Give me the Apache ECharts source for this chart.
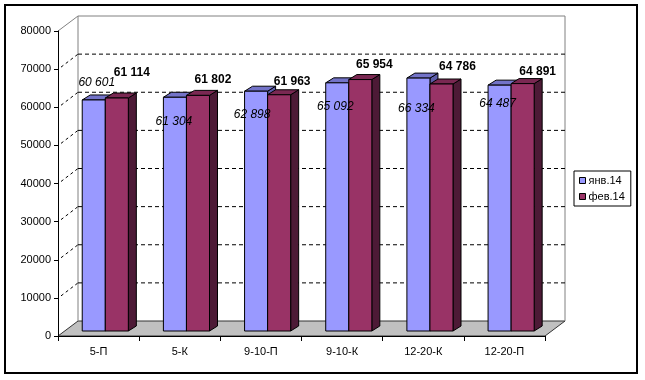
<!DOCTYPE html>
<html>
<head>
<meta charset="utf-8">
<script src="https://cdn.jsdelivr.net/npm/echarts@6/dist/echarts.min.js"></script>
<style>
  html, body { margin: 0; padding: 0; background: #fff; }
  #chart { width: 645px; height: 380px; }
</style>
</head>
<body>
<div id="chart"></div>
<script>
// ---- data ----
const categories = ['5-П', '5-К', '9-10-П', '9-10-К', '12-20-К', '12-20-П'];
const seriesNames = ['янв.14', 'фев.14'];
const jan = [60601, 61304, 62898, 65092, 66334, 64487];
const feb = [61114, 61802, 61963, 65954, 64786, 64891];
const yTicks = [0, 10000, 20000, 30000, 40000, 50000, 60000, 70000, 80000];

// ---- layout / style constants (not data) ----
const DEPTH_DX = 20, DEPTH_DY = -15;     // wall depth
const FRONT_DX = 6.7, FRONT_DY = -5;     // bar front face offset
const SIDE_DX = 8, SIDE_DY = -5;         // bar depth
const BAR_FRAC = 0.284;                  // bar width as fraction of category band
const janLabelDx = [3, -1, -4, -2, -2, -2];
const janLabelDy = [-17, 24, 23, 24, 31, 19];
const febLabelDx = [15, 15, 13, 14, 16, 15];
const febLabelDy = [-25, -16, -13, -14.5, -17, -12];
const FONT = 'Arial, "Liberation Sans", sans-serif';

const janColors = { front: '#9999FF', top: '#7373C8', side: '#5C5CA8' };
const febColors = { front: '#993366', top: '#7A2852', side: '#4D1A36' };

function fmt(v) {
  return String(v).replace(/\B(?=(\d{3})+(?!\d))/g, ' ');
}

const chart = echarts.init(document.getElementById('chart'), null, { renderer: 'canvas' });

function renderWalls(params, api) {
  const bw = api.size([1, 0])[0];
  const c0 = api.coord([0, 0]);
  const L = c0[0] - bw / 2;
  const R = L + bw * categories.length;
  const y0 = c0[1];
  const yTop = api.coord([0, yTicks[yTicks.length - 1]])[1];
  const children = [];
  // floor
  children.push({
    type: 'polygon',
    shape: { points: [[L, y0], [R, y0], [R + DEPTH_DX, y0 + DEPTH_DY], [L + DEPTH_DX, y0 + DEPTH_DY]] },
    style: { fill: '#C0C0C0', stroke: '#333', lineWidth: 1 }
  });
  // back wall frame
  children.push({
    type: 'polyline',
    shape: { points: [[L + DEPTH_DX, y0 + DEPTH_DY], [L + DEPTH_DX, yTop + DEPTH_DY], [R + DEPTH_DX, yTop + DEPTH_DY], [R + DEPTH_DX, y0 + DEPTH_DY]] },
    style: { fill: null, stroke: '#808080', lineWidth: 1 }
  });
  children.push({
    type: 'line',
    shape: { x1: L, y1: yTop, x2: L + DEPTH_DX, y2: yTop + DEPTH_DY },
    style: { stroke: '#808080', lineWidth: 1 }
  });
  // gridlines
  for (let k = 1; k < yTicks.length - 1; k++) {
    const y = api.coord([0, yTicks[k]])[1];
    children.push({
      type: 'line',
      shape: { x1: L + DEPTH_DX, y1: y + DEPTH_DY, x2: R + DEPTH_DX, y2: y + DEPTH_DY },
      style: { stroke: '#000', lineWidth: 1, lineDash: [4, 3] }
    });
    children.push({
      type: 'line',
      shape: { x1: L + 3, y1: y - 2, x2: L + DEPTH_DX, y2: y + DEPTH_DY },
      style: { stroke: '#000', lineWidth: 1, lineDash: [3, 3] }
    });
  }
  return { type: 'group', children: children, silent: true };
}

function makeBarRenderer(sIdx, colors, values, dxArr, dyArr, fontStyle) {
  return function (params, api) {
    const i = api.value(0);
    const v = api.value(1);
    const bw = api.size([1, 0])[0];
    const c = api.coord([i, v]);
    const b = api.coord([i, 0]);
    const barW = bw * BAR_FRAC;
    const x1 = c[0] + FRONT_DX + (sIdx === 0 ? -barW : 0);
    const x2 = x1 + barW;
    const yt = c[1] + FRONT_DY;
    const yb = b[1] + FRONT_DY;
    const stroke = { stroke: '#000', lineWidth: 1 };
    return {
      type: 'group',
      children: [
        { type: 'polygon', shape: { points: [[x2, yt], [x2 + SIDE_DX, yt + SIDE_DY], [x2 + SIDE_DX, yb + SIDE_DY], [x2, yb]] },
          style: Object.assign({ fill: colors.side }, stroke) },
        { type: 'polygon', shape: { points: [[x1, yt], [x2, yt], [x2 + SIDE_DX, yt + SIDE_DY], [x1 + SIDE_DX, yt + SIDE_DY]] },
          style: Object.assign({ fill: colors.top }, stroke) },
        { type: 'rect', shape: { x: x1, y: yt, width: barW, height: yb - yt },
          style: Object.assign({ fill: colors.front }, stroke) },
        { type: 'text', z2: 100, x: (x1 + x2) / 2 + dxArr[params.dataIndex], y: yt + dyArr[params.dataIndex],
          style: { text: fmt(values[params.dataIndex]), fill: '#000', font: fontStyle + ' 12px ' + FONT,
                   align: 'center', verticalAlign: 'middle' } }
      ]
    };
  };
}

const option = {
  animation: false,
  color: [janColors.front, febColors.front],
  grid: { left: 58, right: 100, top: 31, bottom: 44, containLabel: false },
  xAxis: {
    type: 'category',
    data: categories,
    boundaryGap: true,
    axisLine: { lineStyle: { color: '#000', width: 1 } },
    axisTick: { show: true, length: 5, lineStyle: { color: '#000' } },
    axisLabel: { color: '#000', fontSize: 11, fontFamily: FONT, margin: 10, interval: 0 },
    splitLine: { show: false },
    z: 10
  },
  yAxis: {
    type: 'value',
    min: 0,
    max: 80000,
    interval: 10000,
    axisLine: { show: true, lineStyle: { color: '#000', width: 1 } },
    axisTick: { show: true, length: 4, lineStyle: { color: '#000' } },
    axisLabel: { color: '#000', fontSize: 11, fontFamily: FONT, margin: 7,
                 formatter: function (v) { return String(v); } },
    splitLine: { show: false },
    z: 10
  },
  legend: {
    orient: 'vertical',
    left: 574,
    top: 171,
    data: seriesNames.map(function (n) { return { name: n, icon: 'rect' }; }),
    itemWidth: 6,
    itemHeight: 6,
    itemGap: 5,
    padding: [4, 6, 4, 5],
    borderColor: '#000',
    borderWidth: 1,
    borderRadius: 0,
    itemStyle: { borderColor: '#000', borderWidth: 1 },
    textStyle: { color: '#000', fontSize: 11, fontFamily: FONT, padding: [0, 0, 0, -2] },
    selectedMode: false
  },
  graphic: [
    { type: 'rect', shape: { x: 5, y: 5, width: 632, height: 368 },
      style: { fill: null, stroke: '#000', lineWidth: 2 }, silent: true, z: 100 }
  ],
  series: [
    {
      name: 'walls',
      type: 'custom',
      renderItem: renderWalls,
      data: [[0, 0]],
      encode: { x: 0, y: 1 },
      silent: true,
      z: 1
    },
    {
      name: seriesNames[0],
      type: 'custom',
      renderItem: makeBarRenderer(0, janColors, jan, janLabelDx, janLabelDy, 'italic'),
      data: jan.map(function (v, i) { return [i, v]; }),
      encode: { x: 0, y: 1 },
      itemStyle: { color: janColors.front },
      emphasis: { disabled: true },
      z: 2
    },
    {
      name: seriesNames[1],
      type: 'custom',
      renderItem: makeBarRenderer(1, febColors, feb, febLabelDx, febLabelDy, 'bold'),
      data: feb.map(function (v, i) { return [i, v]; }),
      encode: { x: 0, y: 1 },
      itemStyle: { color: febColors.front },
      emphasis: { disabled: true },
      z: 2
    }
  ]
};
chart.setOption(option);
</script>
</body>
</html>
